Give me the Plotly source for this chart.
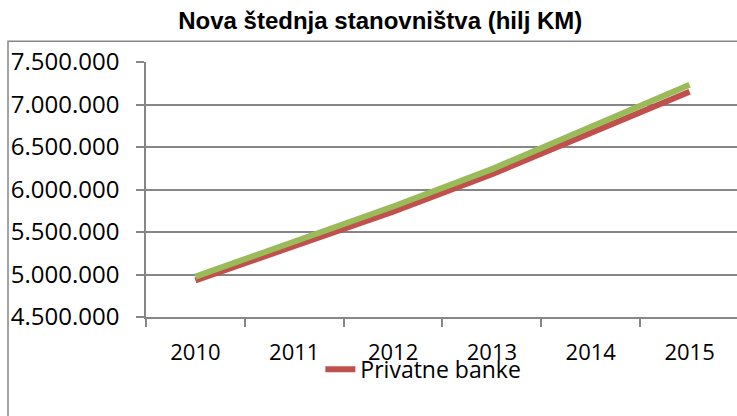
import plotly.graph_objects as go

# values
years = ['2010', '2011', '2012', '2013', '2014', '2015']
privatne_banke = [4930000, 5335000, 5740000, 6180000, 6670000, 7151000]
ukupno = [4975000, 5390000, 5800000, 6240000, 6740000, 7232000]
y_ticks = [4500000, 5000000, 5500000, 6000000, 6500000, 7000000, 7500000]
y_tick_labels = ['4.500.000', '5.000.000', '5.500.000', '6.000.000',
                 '6.500.000', '7.000.000', '7.500.000']

RED = '#C0504D'
GREEN = '#9BBB59'
GRID = '#868686'
FONT = 'Open Sans, Lato, sans-serif'

fig = go.Figure()
fig.add_trace(go.Scatter(
    x=years, y=privatne_banke, mode='lines', name='Privatne banke',
    line=dict(color=RED, width=6)
))
fig.add_trace(go.Scatter(
    x=years, y=ukupno, mode='lines', name='Ukupno', showlegend=False,
    line=dict(color=GREEN, width=6)
))

# outer chart frame (runs off the right and bottom edges in the original)
fig.add_shape(
    type='rect', xref='paper', yref='paper',
    x0=-0.2335, x1=1.2, y0=-1.0, y1=1.081,
    line=dict(color=GRID, width=1.5), layer='below'
)

fig.update_layout(
    width=737, height=416,
    margin=dict(l=146, r=0, t=62, b=99, autoexpand=False),
    paper_bgcolor='white', plot_bgcolor='white',
    title=dict(
        text='<b>Nova štednja stanovništva (hilj KM)</b>',
        x=0.516, xanchor='center', y=1 - 21 / 416, yanchor='middle',
        font=dict(family='Liberation Sans, Arial, sans-serif', size=24, color='black')
    ),
    font=dict(family=FONT, size=23, color='black'),
    showlegend=True,
    legend=dict(
        orientation='h', x=0.295, xanchor='left', y=-0.205, yanchor='middle',
        bgcolor='rgba(0,0,0,0)', font=dict(family=FONT, size=23, color='black'),
        itemwidth=30
    ),
    xaxis=dict(
        type='category', range=[-0.5, 5.48], tickson='boundaries',
        showgrid=False, showline=True, linecolor=GRID, linewidth=1.5,
        ticks='outside', ticklen=8, tickcolor=GRID, tickwidth=1.5,
        ticklabelstandoff=15, tickfont=dict(family=FONT, size=22),
        automargin=False
    ),
    yaxis=dict(
        range=[4500000, 7500000], tickvals=y_ticks, ticktext=y_tick_labels,
        showgrid=True, gridcolor=GRID, gridwidth=1.5,
        showline=True, linecolor=GRID, linewidth=1.5,
        ticks='outside', ticklen=8, tickcolor=GRID, tickwidth=1.5,
        ticklabelstandoff=12, tickfont=dict(family=FONT, size=24),
        zeroline=False, automargin=False
    )
)

# the page's default body margin would push the chart 8px down and right
fig.write_html('out.html', config={'displayModeBar': False},
               post_script="document.body.style.margin = '0';")
